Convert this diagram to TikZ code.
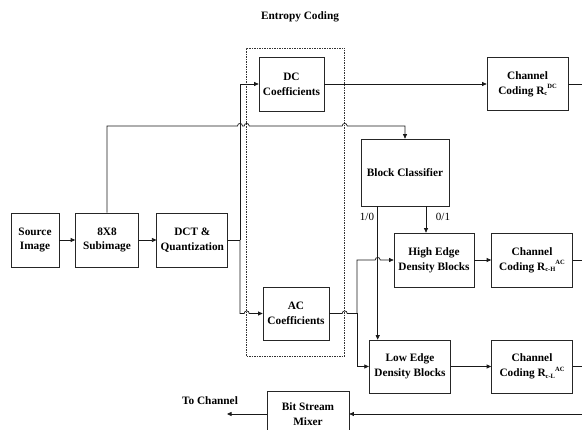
\documentclass[tikz,border=0pt]{standalone}
\usepackage{fontspec}
\setmainfont{Liberation Serif}
\usetikzlibrary{arrows.meta}
\newcommand\Rsym[2]{R\raisebox{-0.35ex}{\fontsize{6.5}{7}\selectfont #1}\raisebox{1.0ex}{\fontsize{6.5}{7}\selectfont #2}}
\newcommand\hop[2]{-- (#1-2.5,#2) .. controls (#1-2.5,#2-3.4) and (#1+2.5,#2-3.4) .. (#1+2.5,#2)}
\begin{document}
\begin{tikzpicture}[x=1pt,y=-1pt,
  box/.style={draw=black!85,line width=0.7pt,rectangle,inner sep=1pt,align=center,
    font=\bfseries\fontsize{11.3}{14.7}\selectfont},
  wire/.style={draw=black!90,line width=0.7pt},
  arr/.style={wire,-{Triangle[length=4.5pt,width=4pt]}},
  lbl/.style={font=\fontsize{11}{13}\selectfont,inner sep=0pt},
  blbl/.style={font=\bfseries\fontsize{11.3}{13}\selectfont,inner sep=0pt}]
\clip (0,0) rectangle (582,430);
% title and dashed group
\node[blbl] (title) at (300,17) {Entropy Coding};
\node[draw=black!80,line width=0.6pt,dash pattern=on 1.5pt off 1pt,minimum width=98pt,minimum height=308pt,inner sep=0pt] (ent) at (295.7,202) {};
% boxes
\node[box,minimum width=48pt,minimum height=54pt] (src) at (35,240) {Source\\Image};
\node[box,minimum width=63pt,minimum height=54pt] (sub) at (107,240) {8X8\\Subimage};
\node[box,minimum width=71pt,minimum height=54pt] (dct) at (192.3,240) {DCT \&\\Quantization};
\node[box,minimum width=65pt,minimum height=54pt] (dc) at (291.5,84) {DC\\Coefficients};
\node[box,minimum width=81pt,minimum height=53pt] (ccdc) at (527.5,84) {Channel\\Coding \Rsym{c}{DC}};
\node[box,minimum width=88pt,minimum height=67pt] (bc) at (405,172.5) {Block Classifier};
\node[box,minimum width=80pt,minimum height=54pt] (hed) at (434,260) {High Edge\\Density Blocks};
\node[box,minimum width=81pt,minimum height=54pt] (cch) at (532,260) {Channel\\Coding \Rsym{c-H}{AC}};
\node[box,minimum width=66pt,minimum height=53pt] (ac) at (296,313.5) {AC\\Coefficients};
\node[box,minimum width=81.6pt,minimum height=53pt] (led) at (410,366.5) {Low Edge\\Density Blocks};
\node[box,minimum width=81pt,minimum height=53pt] (ccl) at (532,366.5) {Channel\\Coding \Rsym{c-L}{AC}};
\node[box,minimum width=82pt,minimum height=46pt] (bsm) at (308,414) {Bit Stream\\Mixer};
% labels
\node[lbl] (l10) at (367,217) {1/0};
\node[lbl] (l01) at (443,217) {0/1};
\node[blbl] (tc) at (210,401) {To Channel};
% coordinates
\coordinate (sp) at (240,240);
\coordinate (t) at (107,126);
\coordinate (x10) at (377.7,0);
\coordinate (x01) at (426,0);
\coordinate (j) at (357,313.5);
\coordinate (inb) at (600,414);
\coordinate (outb) at (227,414);
% connectors
\draw[arr] (src) -- (sub);
\draw[arr] (sub) -- (dct);
\draw[wire] (dct.east) -- (sp);
\draw[arr] (sp) |- (dc.west);
\draw[arr] (sp) -- (sp |- ac.west) \hop{246.7}{313.5} -- (ac.west);
\draw[arr] (sub.north) -- (t) \hop{240}{126} \hop{246.7}{126} \hop{344.7}{126} -- (bc.north |- t) -- (bc.north);
\draw[arr] (x10 |- bc.south) -- (x10 |- led.north);
\draw[arr] (x01 |- bc.south) -- (x01 |- hed.north);
\draw[wire] (ac.east) \hop{344.7}{313.5} -- (j);
\draw[arr] (j) |- (led.west);
\draw[arr] (j) -- (j |- hed.west) \hop{377.7}{260} -- (hed.west);
\draw[arr] (dc) -- (ccdc);
\draw[wire] (ccdc.east) -- ++(30,0);
\draw[arr] (hed) -- (cch);
\draw[wire] (cch.east) -- ++(30,0);
\draw[arr] (led) -- (ccl);
\draw[wire] (ccl.east) -- ++(30,0);
\draw[arr] (inb) -- (bsm.east);
\draw[arr] (bsm.west) -- (outb);
\end{tikzpicture}
\end{document}
